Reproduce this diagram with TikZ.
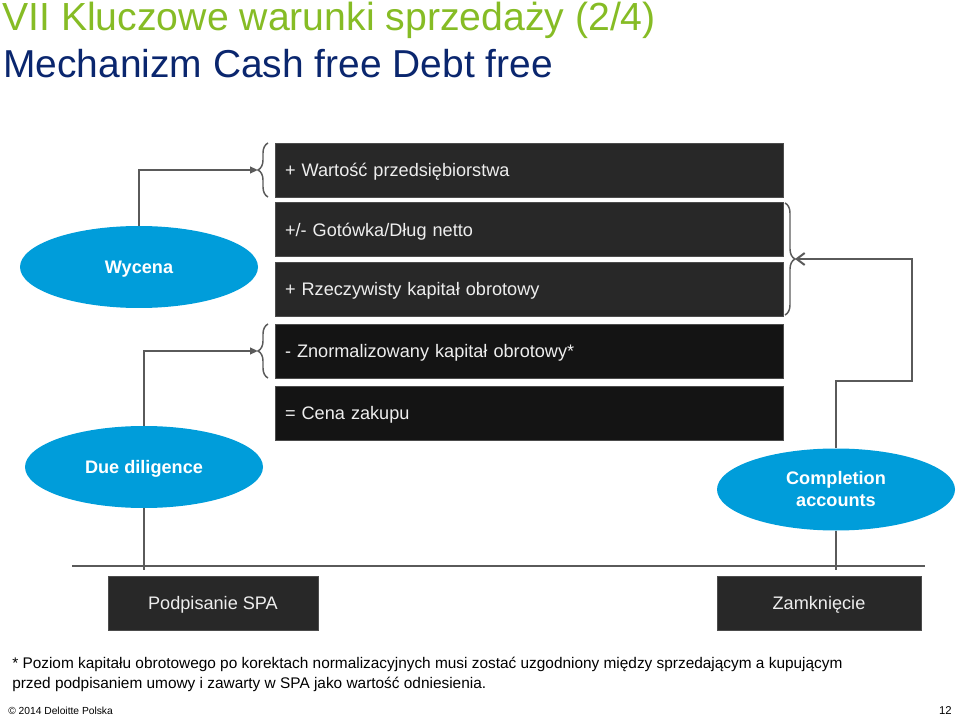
\documentclass[tikz,border=0pt]{standalone}
\usepackage{fontspec}
\setmainfont{Liberation Sans}
\usetikzlibrary{arrows.meta,decorations.pathreplacing,shapes.geometric}
\definecolor{dgreen}{RGB}{134,188,37}
\definecolor{dnavy}{RGB}{10,38,110}
\definecolor{dblue}{RGB}{0,157,218}
\definecolor{boxA}{RGB}{40,40,40}
\definecolor{boxB}{RGB}{20,20,20}
\definecolor{boxtxt}{RGB}{238,238,238}
\definecolor{lin}{RGB}{90,90,90}
\begin{document}
\begin{tikzpicture}[x=0.75pt,y=-0.75pt,
  rowbox/.style={rectangle,fill=#1,draw=gray!60!black,line width=0.4pt,minimum width=381pt,minimum height=40.5pt,
    text width=366pt,inner xsep=7.5pt,align=left,text=boxtxt,text depth=0pt,font=\fontsize{13.6}{16}\selectfont},
  rowbox/.default=boxA,
  endbox/.style={rectangle,fill=boxA,draw=gray!60!black,line width=0.4pt,minimum height=40.5pt,
    text=boxtxt,text depth=0pt,font=\fontsize{13.6}{16}\selectfont},
  ell/.style={ellipse,fill=dblue,minimum width=178.5pt,minimum height=61.5pt,inner sep=0pt,
    text=white,align=center,font=\bfseries\fontsize{13.6}{16.5}\selectfont},
  conn/.style={draw=lin,line width=1.5pt},
  brc/.style={draw=lin,line width=1.1pt,decorate,decoration={brace,amplitude=7.5pt}}]
\useasboundingbox (0,0) rectangle (960,716);
% titles
\node[anchor=base west,inner sep=0pt,text=dgreen,font=\fontsize{29.4}{34}\selectfont] (t1) at (2,31) {VII Kluczowe warunki sprzedaży (2/4)};
\node[anchor=base west,inner sep=0pt,text=dnavy,font=\fontsize{29.2}{34}\selectfont] (t2) at (3,78) {Mechanizm Cash free Debt free};
% row boxes
\node[rowbox] (b1) at (529,170) {+ Wartość przedsiębiorstwa};
\node[rowbox] (b2) at (529,229.5) {+/- Gotówka/Dług netto};
\node[rowbox] (b3) at (529,289) {+ Rzeczywisty kapitał obrotowy};
\node[rowbox=boxB] (b4) at (529,351) {- Znormalizowany kapitał obrotowy*};
\node[rowbox=boxB] (b5) at (529,413) {= Cena zakupu};
% braces
\draw[brc] (268,197) -- (268,143);
\draw[brc] (268,378) -- (268,324);
\draw[brc] (785,203) -- (785,315);
\coordinate (tip1) at (258,170);
\coordinate (tip4) at (258,351);
\coordinate (tip23) at (795,259);
% ellipses
\node[ell,text depth=0pt] (wyc) at (139,267) {Wycena};
\node[ell,text depth=0pt] (dd) at (144,467) {Due diligence};
\node[ell] (ca) at (836,489.5) {Completion\\accounts};
% connectors
\draw[conn,-{Triangle[length=6pt,width=5pt]}] (wyc.north) |- (tip1);
\draw[conn,-{Triangle[length=6pt,width=5pt]}] (dd.north) |- (tip4);
\coordinate (r1) at (912,381);
\draw[conn,-{Straight Barb[length=6pt,width=9pt]}] (ca.north) |- (r1) |- (tip23);
% timeline
\coordinate (tl) at (72,566);
\coordinate (tr) at (925,566);
\coordinate (ddb) at (144,570);
\coordinate (cab) at (836,570);
\draw[conn] (tl) -- (tr);
\draw[conn] (dd.south) -- (ddb);
\draw[conn] (ca.south) -- (cab);
% bottom boxes
\node[endbox,minimum width=157.5pt] (spa) at (213,603) {Podpisanie SPA};
\node[endbox,minimum width=153pt] (zam) at (819,603) {Zamknięcie};
% footnote
\node[anchor=base west,inner sep=0pt,font=\fontsize{11.55}{15}\selectfont] (fn1) at (12,668)
  {* Poziom kapitału obrotowego po korektach normalizacyjnych musi zostać uzgodniony między sprzedającym a kupującym};
\node[anchor=base west,inner sep=0pt,font=\fontsize{11.55}{15}\selectfont] (fn2) at (12,688)
  {przed podpisaniem umowy i zawarty w SPA jako wartość odniesienia.};
% footer
\node[anchor=base west,inner sep=0pt,font=\fontsize{7.7}{9}\selectfont] (copy) at (8,714) {© 2014 Deloitte Polska};
\node[anchor=base east,inner sep=0pt,font=\fontsize{8.5}{10}\selectfont] (pg) at (952,714) {12};
\end{tikzpicture}
\end{document}
